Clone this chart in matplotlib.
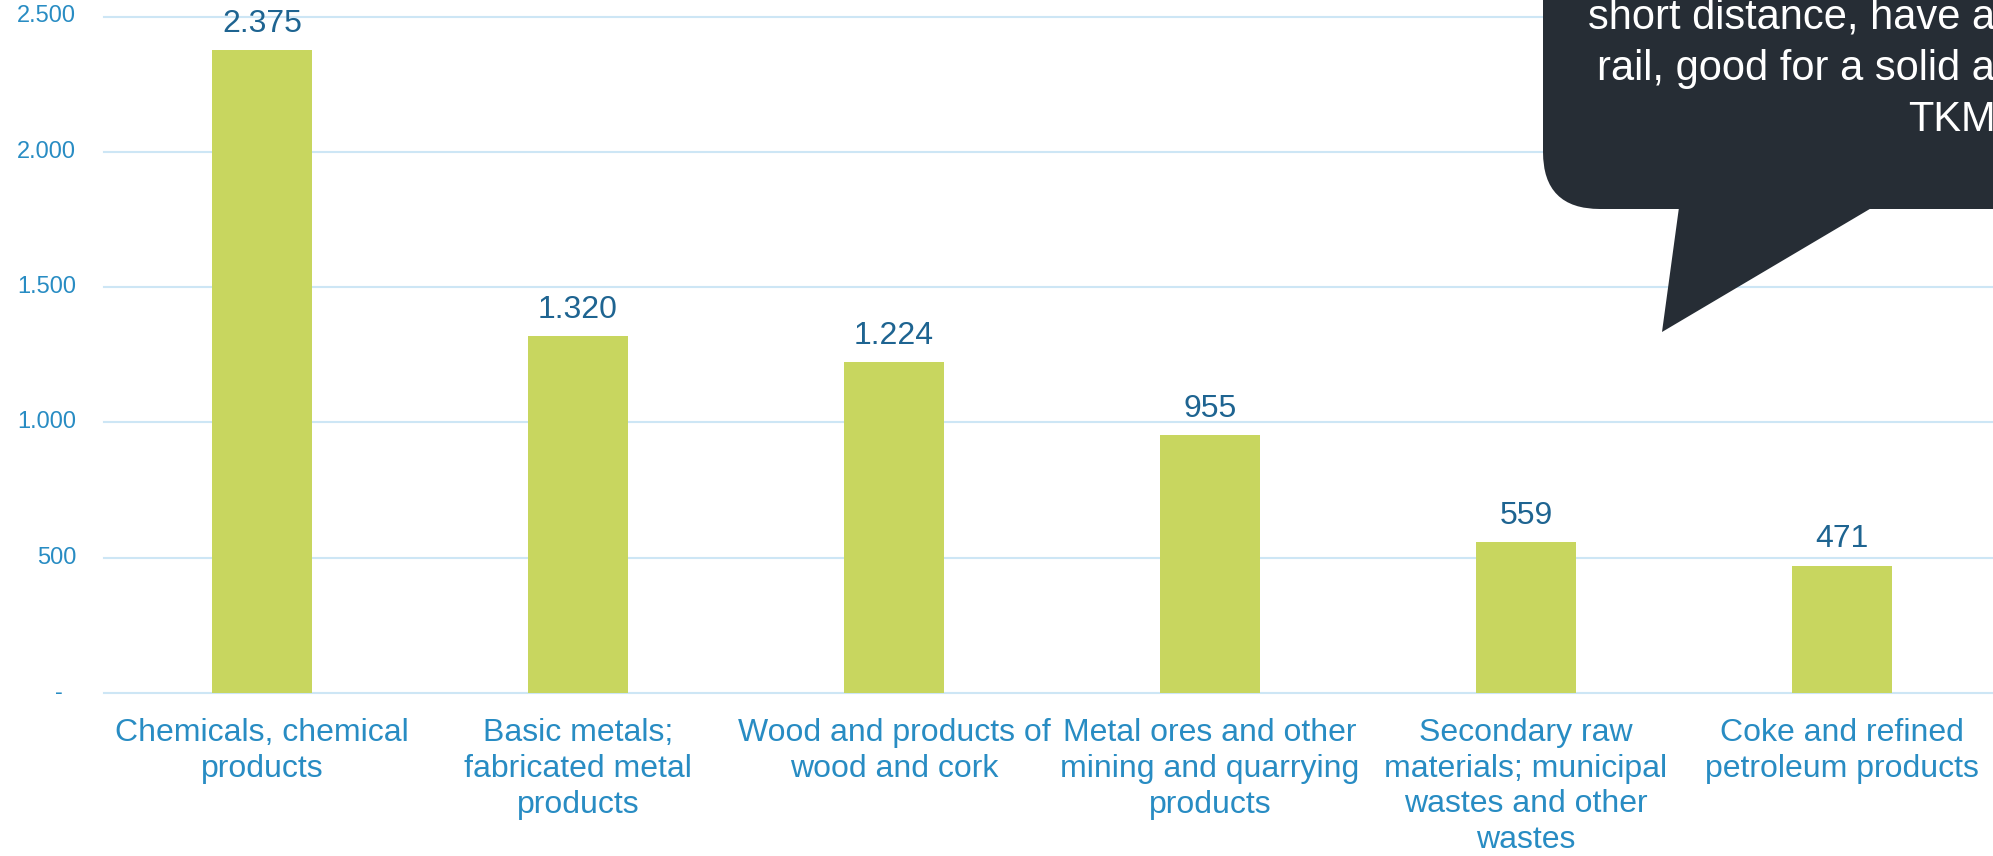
import matplotlib
matplotlib.use("Agg")
import matplotlib.pyplot as plt
from matplotlib.patches import FancyBboxPatch, Polygon
from matplotlib.transforms import Affine2D, ScaledTranslation, blended_transform_factory

plt.rcParams['font.family'] = ['Liberation Sans', 'DejaVu Sans']

# ---- data ----
categories = [
    "Chemicals, chemical\nproducts",
    "Basic metals;\nfabricated metal\nproducts",
    "Wood and products of\nwood and cork",
    "Metal ores and other\nmining and quarrying\nproducts",
    "Secondary raw\nmaterials; municipal\nwastes and other\nwastes",
    "Coke and refined\npetroleum products",
]
values = [2375, 1320, 1224, 955, 559, 471]
value_labels = ["2.375", "1.320", "1.224", "955", "559", "471"]
y_ticks = [0, 500, 1000, 1500, 2000, 2500]
y_tick_labels = ["-", "500", "1.000", "1.500", "2.000", "2.500"]
callout_lines = ["short distance, have a", "rail, good for a solid a", "TKM"]

# ---- colours ----
BAR = "#C8D65F"
GRID = "#CDE6F5"
TICK = "#288CC3"
VAL = "#1E6491"
CALLOUT = "#262D35"

W, H = 1993, 856
fig = plt.figure(figsize=(W / 100, H / 100), dpi=100)
ax_left, ax_top, ax_bottom = 104, 16.5, 693
ax = fig.add_axes([ax_left / W, (H - ax_bottom) / H, 1 - ax_left / W, (ax_bottom - ax_top) / H])

slot = 316
x = list(range(len(categories)))
ax.bar(x, values, width=100 / slot, color=BAR, zorder=2)
ax.set_xlim(-0.5, -0.5 + (W - ax_left) / slot)
ax.set_ylim(0, 2500)

for s in ax.spines.values():
    s.set_visible(False)
for yv in y_ticks:
    ax.axhline(yv, color=GRID, lw=1.5, zorder=1, clip_on=False)

# value labels
for xi, v, lab in zip(x, values, value_labels):
    ax.annotate(lab, (xi, v), xytext=(0, 13), textcoords="offset points",
                ha="center", va="baseline", fontsize=23, color=VAL)

# y tick labels (drawn manually to match accounting format)
ax.set_yticks([])
bt = blended_transform_factory(ax.transAxes, ax.transData)
for yv, lab in zip(y_ticks, y_tick_labels):
    off = -30 if lab == "-" else -20
    ax.text(0, yv, lab, transform=bt + ScaledTranslation(off / 72, 0, fig.dpi_scale_trans),
            ha="right", va="center", fontsize=17, color=TICK)

# x tick labels
ax.set_xticks(x)
ax.set_xticklabels(categories, fontsize=23, color=TICK)
ax.tick_params(axis="x", length=0, pad=18)
for t in ax.get_xticklabels():
    t.set_linespacing(1.25)

# ---- callout (pixel coords measured from top) ----
pix = Affine2D().scale(1, -1).translate(0, H)
box = FancyBboxPatch((1543, -300), 800, 509, boxstyle="round,pad=0,rounding_size=57",
                     transform=pix, facecolor=CALLOUT, edgecolor="none", zorder=5)
fig.add_artist(box)
tail = Polygon([(1680, 200), (1885, 200), (1662, 332)], closed=True, transform=pix,
               facecolor=CALLOUT, edgecolor="none", zorder=5)
fig.add_artist(tail)
for (lx, ly), line in zip([(1588, 28), (1597, 80), (1908, 131)], callout_lines):
    fig.text(lx, ly, line, transform=pix, ha="left", va="baseline", fontsize=30,
             color="white", zorder=6)

fig.savefig("out.png", dpi=100)
